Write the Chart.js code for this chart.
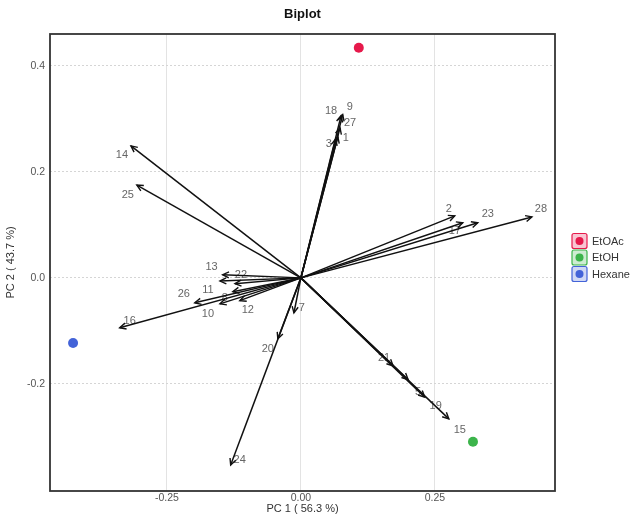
<!DOCTYPE html>
<html>
<head>
<meta charset="utf-8">
<script src="https://cdn.jsdelivr.net/npm/chart.js@4.4.0/dist/chart.umd.min.js"></script>
<style>
  html, body { margin: 0; padding: 0; background: #fff; }
</style>
</head>
<body>
<canvas id="biplot" width="635" height="515"></canvas>
<script>
// Variables (loadings)
const varLabels = ['1', '2', '3', '5', '7', '8', '9', '10', '11', '12', '13', '14', '15', '16',
                   '17', '18', '19', '20', '21', '22', '23', '24', '25', '26', '27', '28'];
const varPC1 = [0.069, 0.287, 0.065, 0.200, -0.013, -0.127, 0.078, -0.151, -0.151, -0.114, -0.146, -0.317, 0.276, -0.338,
                0.302, 0.075, 0.231, -0.043, 0.172, -0.123, 0.330, -0.131, -0.306, -0.198, 0.073, 0.431];
const varPC2 = [0.266, 0.117, 0.262, -0.192, -0.066, -0.026, 0.308, -0.049, -0.006, -0.043, 0.006, 0.249, -0.266, -0.094,
                0.104, 0.306, -0.225, -0.115, -0.166, -0.011, 0.104, -0.353, 0.175, -0.047, 0.283, 0.115];

// Group scores
const groupNames = ['EtOAc', 'EtOH', 'Hexane'];
const groupPC1 = [0.108, 0.321, -0.425];
const groupPC2 = [0.434, -0.309, -0.123];

// Ticks
const xTicks = [-0.25, 0, 0.25];
const yTicks = [-0.2, 0, 0.2, 0.4];

// Styling
const groupColors = ['#e6194b', '#3cb44b', '#4363d8'];
const groupFills = ['rgba(230,25,75,0.25)', 'rgba(60,180,75,0.25)', 'rgba(67,99,216,0.25)'];
// label nudge in pixels [dx, dy], same order as varLabels
const labelOffset = [[8, 1], [-6, -7], [-7, 5], [10, 12], [8, -5], [-8, 6], [7, -8], [-12, 10], [-12, 9], [8, 9],
                     [-11, -8], [-9, 9], [11, 11], [10, -7], [-8, 8], [-10, -5], [11, 9], [-10, 10], [-9, -8], [6, -9],
                     [10, -9], [9, -5], [-9, 10], [-11, -9], [10, -5], [9, -8]];
const FONT = '"Liberation Sans", Arial, sans-serif';
const ARROW = '#111';

const arrowSets = varLabels.map((lab, i) => ({
    label: lab,
    data: [{x: 0, y: 0}, {x: varPC1[i], y: varPC2[i]}],
    showLine: true,
    borderColor: ARROW,
    borderWidth: 1.5,
    pointRadius: 0,
    fill: false
}));

const groupSets = groupNames.map((g, i) => ({
    label: g,
    data: [{x: groupPC1[i], y: groupPC2[i]}],
    backgroundColor: groupColors[i],
    borderWidth: 0,
    pointRadius: 5
}));

// labels, arrow heads, frame, title, legend
const biplotDecor = {
    id: 'biplotDecor',
    beforeDatasetsDraw(chart) {
        const ctx = chart.ctx;
        ctx.save();
        ctx.font = '11px ' + FONT;
        ctx.fillStyle = '#666';
        ctx.textAlign = 'center';
        ctx.textBaseline = 'middle';
        varLabels.forEach((lab, i) => {
            const tip = chart.getDatasetMeta(i).data[1];
            ctx.fillText(lab, tip.x + labelOffset[i][0], tip.y + labelOffset[i][1]);
        });
        ctx.restore();
    },
    afterDatasetsDraw(chart) {
        const ctx = chart.ctx;
        ctx.save();
        ctx.strokeStyle = ARROW;
        ctx.lineWidth = 1.4;
        varLabels.forEach((lab, i) => {
            const pts = chart.getDatasetMeta(i).data;
            const a = Math.atan2(pts[1].y - pts[0].y, pts[1].x - pts[0].x);
            const len = 7, spread = 0.45;
            ctx.beginPath();
            ctx.moveTo(pts[1].x - len * Math.cos(a - spread), pts[1].y - len * Math.sin(a - spread));
            ctx.lineTo(pts[1].x, pts[1].y);
            ctx.lineTo(pts[1].x - len * Math.cos(a + spread), pts[1].y - len * Math.sin(a + spread));
            ctx.stroke();
        });
        ctx.restore();
    },
    afterDraw(chart) {
        const ctx = chart.ctx;
        const area = chart.chartArea;
        ctx.save();
        // frame
        ctx.strokeStyle = '#333';
        ctx.lineWidth = 1.8;
        ctx.strokeRect(area.left, area.top, area.right - area.left, area.bottom - area.top);
        // title
        ctx.fillStyle = '#111';
        ctx.font = 'bold 13px ' + FONT;
        ctx.textAlign = 'center';
        ctx.textBaseline = 'middle';
        ctx.fillText('Biplot', (area.left + area.right) / 2, 14);
        // legend
        ctx.font = '11px ' + FONT;
        ctx.textAlign = 'left';
        groupNames.forEach((g, i) => {
            const cy = 241 + i * 16.5;
            const bx = 572, size = 15;
            ctx.beginPath();
            ctx.roundRect(bx, cy - size / 2, size, size, 2);
            ctx.fillStyle = groupFills[i];
            ctx.fill();
            ctx.strokeStyle = groupColors[i];
            ctx.lineWidth = 1.2;
            ctx.stroke();
            ctx.beginPath();
            ctx.arc(bx + size / 2, cy, 4, 0, Math.PI * 2);
            ctx.fillStyle = groupColors[i];
            ctx.fill();
            ctx.fillStyle = '#333';
            ctx.fillText(g, 592, cy + 0.5);
        });
        ctx.restore();
    }
};

new Chart(document.getElementById('biplot'), {
    type: 'scatter',
    data: { datasets: [...arrowSets, ...groupSets] },
    options: {
        responsive: false,
        animation: false,
        layout: { padding: { top: 34, right: 80, left: 0, bottom: 0 } },
        plugins: {
            legend: { display: false },
            tooltip: { enabled: false }
        },
        scales: {
            x: {
                type: 'linear',
                min: -0.468,
                max: 0.474,
                afterBuildTicks: s => { s.ticks = xTicks.map(v => ({value: v})); },
                afterFit: s => { s.height = 24; },
                grid: { color: '#e3e3e3', lineWidth: 1, drawTicks: false },
                border: { display: false },
                ticks: {
                    padding: 1,
                    color: '#555',
                    font: { size: 10.5, family: FONT },
                    callback: v => v.toFixed(2)
                },
                title: {
                    display: true,
                    text: 'PC 1 ( 56.3 %)',
                    color: '#333',
                    font: { size: 11, family: FONT },
                    padding: { top: 0, bottom: -1 }
                }
            },
            y: {
                type: 'linear',
                min: -0.402,
                max: 0.460,
                afterBuildTicks: s => { s.ticks = yTicks.map(v => ({value: v})); },
                afterFit: s => { s.width = 50; },
                grid: { color: '#d5d5d5', lineWidth: 1, drawTicks: false },
                border: { display: false, dash: [2, 2] },
                ticks: {
                    padding: 5,
                    color: '#555',
                    font: { size: 10.5, family: FONT },
                    callback: v => v.toFixed(1)
                },
                title: {
                    display: true,
                    text: 'PC 2 ( 43.7 %)',
                    color: '#333',
                    font: { size: 11, family: FONT },
                    padding: { top: 4, bottom: 0 }
                }
            }
        }
    },
    plugins: [biplotDecor]
});
</script>
</body>
</html>
